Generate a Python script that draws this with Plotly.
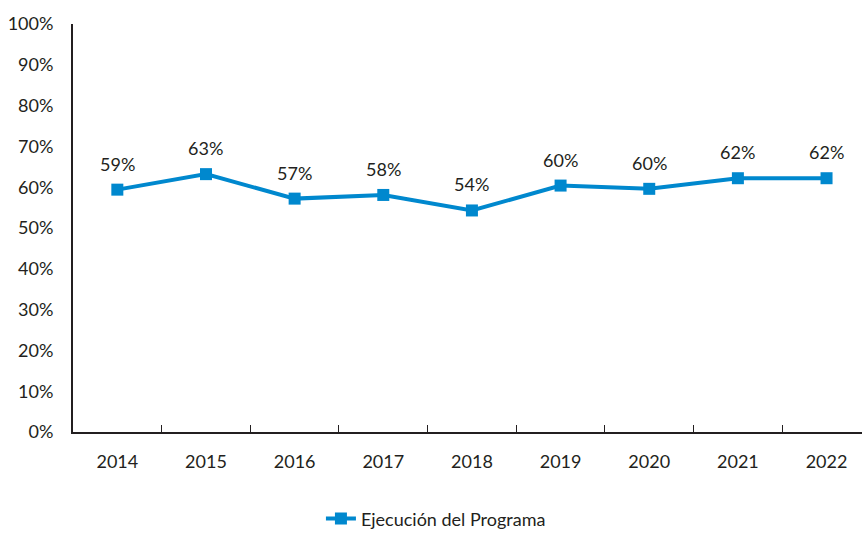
import plotly.graph_objects as go

years = ["2014", "2015", "2016", "2017", "2018", "2019", "2020", "2021", "2022"]
ejecucion = [0.594, 0.632, 0.572, 0.581, 0.543, 0.604, 0.596, 0.622, 0.622]
labels = ["59%", "63%", "57%", "58%", "54%", "60%", "60%", "62%", "62%"]
y_ticks = [0, 0.1, 0.2, 0.3, 0.4, 0.5, 0.6, 0.7, 0.8, 0.9, 1.0]
y_tick_text = ["0%", "10%", "20%", "30%", "40%", "50%", "60%", "70%", "80%", "90%", "100%"]

blue = "#0088CE"
dark = "#231F20"
font_family = "Lato, 'Open Sans', sans-serif"

fig = go.Figure()
fig.add_trace(go.Scatter(
    x=years, y=ejecucion, mode="lines+markers",
    name="Ejecución del Programa",
    line=dict(color=blue, width=4),
    marker=dict(symbol="square", size=12, color=blue),
))

for i, (y, t) in enumerate(zip(ejecucion, labels)):
    fig.add_annotation(x=i, y=y, xref="x", yref="y", text=t, showarrow=False, yshift=26,
                       font=dict(size=18, color=dark, family=font_family))

fig.update_layout(
    width=862, height=533,
    margin=dict(l=73, r=0, t=24, b=101, autoexpand=False),
    paper_bgcolor="white", plot_bgcolor="white",
    font=dict(family=font_family, size=18, color=dark),
    showlegend=True,
    legend=dict(orientation="h", x=0.46, xanchor="center", y=-0.213, yanchor="middle",
                font=dict(size=18, color=dark)),
)
fig.update_xaxes(
    type="category", range=[-0.5, 8.4], automargin=False,
    showline=True, linecolor=dark, linewidth=2,
    ticks="inside", tickson="boundaries", ticklen=7, tickcolor=dark, tickwidth=1,
    showgrid=False, zeroline=False, ticklabelstandoff=12,
    tickfont=dict(size=18, color=dark),
)
fig.update_yaxes(
    range=[0, 1.0], tickvals=y_ticks, ticktext=y_tick_text, automargin=False,
    showline=True, linecolor=dark, linewidth=2,
    ticks="", showgrid=False, zeroline=False, ticklabelstandoff=14,
    tickfont=dict(size=18, color=dark),
)

fig.write_html("out.html", config={"displayModeBar": False},
               post_script="document.body.style.margin='0';document.body.style.overflow='hidden';")
